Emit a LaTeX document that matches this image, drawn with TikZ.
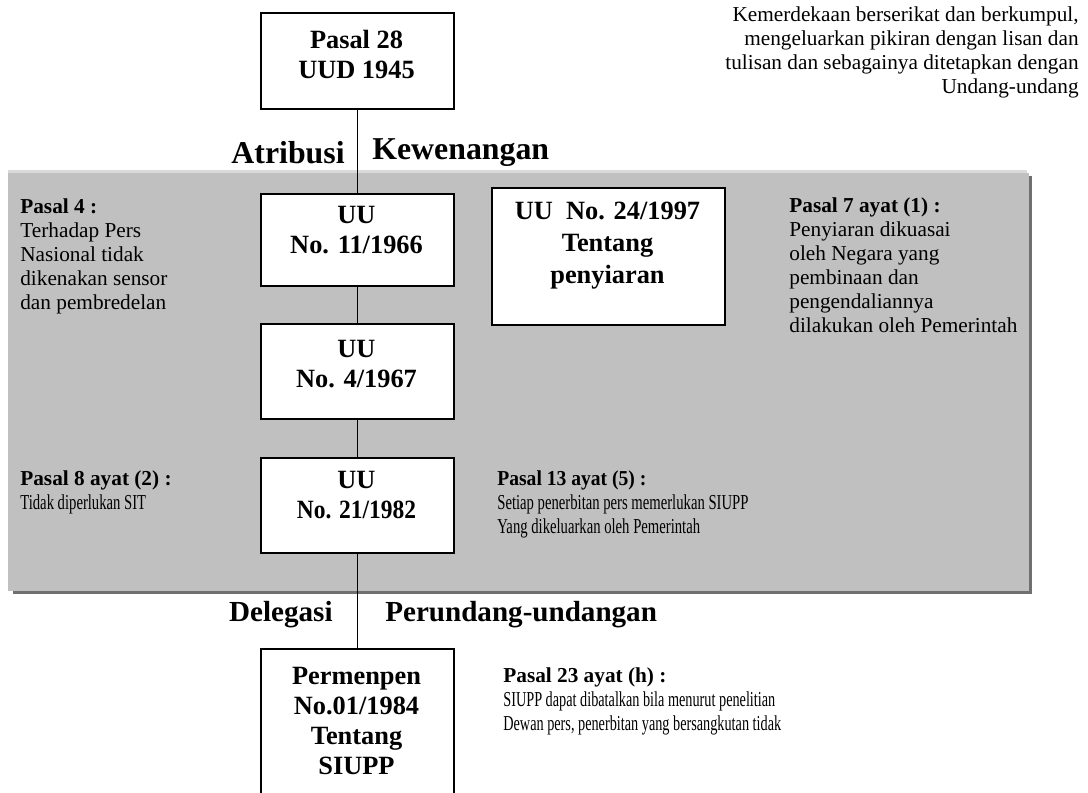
\documentclass[tikz,border=0pt]{standalone}
\usepackage{fontspec}
\setmainfont{Liberation Serif}
\usetikzlibrary{positioning}

\definecolor{panelgray}{HTML}{C0C0C0}
\definecolor{shadegray}{HTML}{707070}
\definecolor{edgegray}{HTML}{DADADA}

\newcommand{\boxfont}{\fontsize{14.5}{16.5}\selectfont\bfseries}
\newcommand{\notefont}{\fontsize{11.7}{13.2}\selectfont}
\newcommand{\linkfont}{\fontsize{17.5}{21}\selectfont\bfseries}
\newcommand{\lowlinkfont}{\fontsize{16}{19}\selectfont\bfseries}
\newcommand{\narrow}[2][0.69]{\scalebox{#1}[1]{#2}}

\tikzset{
  box/.style={draw, line width=0.9pt, fill=white, anchor=north west, inner sep=0pt,
    minimum width=106.15pt, minimum height=52.25pt},
  boxtext/.style={font=\boxfont, align=center, inner sep=0pt},
  note/.style={font=\notefont, align=left, anchor=north west, inner sep=0pt},
  linktext/.style={font=\linkfont, inner sep=0pt},
  link/.style={line width=0.7pt}
}

\begin{document}
\begin{tikzpicture}[x=0.55pt, y=-0.55pt]
			%%%%% START %%%%%
			\clip (0, 0) rectangle (1088, 792);
			
			% grey panel with shadow
			\fill[shadegray] (13, 176) rectangle (1032, 594);
			\fill[panelgray] (8, 173) rectangle (1029, 591);
			\fill[edgegray] (8, 170) rectangle (1027, 173);
			
			% boxes
			\node[box, minimum height=52.8pt] (pasal28) at (260, 12) {};
			\node[box, minimum height=50.6pt] (uu66) at (260, 193) {};
			\node[box] (uu67) at (260, 323) {};
			\node[box] (uu82) at (260, 457) {};
			\node[box, minimum width=128.15pt, minimum height=75.35pt] (uu97) at (491, 187) {};
			\node[box, minimum height=95pt] (perm84) at (260, 648) {};
			
			% connectors
			\draw[link] (pasal28.south) -- (uu66.north);
			\draw[link] (uu66.south) -- (uu67.north);
			\draw[link] (uu67.south) -- (uu82.north);
			\draw[link] (uu82.south) -- (perm84.north);
			
			% box texts
			\node[boxtext] (t28) at (356.5, 54) {Pasal 28\\UUD 1945};
			\node[boxtext] (t66) at (356.5, 230) {UU\\No. 11/1966};
			\node[boxtext] (t67) at (356.5, 364) {UU\\No. 4/1967};
			\node[boxtext] (t82) at (356.5, 495) {UU\\\narrow[0.89]{No. 21/1982}};
			\node[boxtext, font=\fontsize{14.5}{17.6}\selectfont\bfseries] (t97) at (607.5, 246) {UU~~No. 24/1997\\Tentang\\penyiaran};
			\node[boxtext] (t84) at (356.5, 721) {Permenpen\\No.01/1984\\Tentang\\SIUPP};
			
			% link labels
			\node[linktext, anchor=east] (atribusi) at (345, 153) {Atribusi};
			\node[linktext, anchor=west] (kewenangan) at (372, 153) {Kewenangan};
			\node[linktext, font=\lowlinkfont, anchor=east] (delegasi) at (333, 615) {Delegasi};
			\node[linktext, font=\lowlinkfont, anchor=west] (perundangan) at (385, 615) {Perundang-undangan};
			
			% notes
			\node[note, align=right, anchor=north east] (kemerdekaan) at (1079, 6)
			  {Kemerdekaan berserikat dan berkumpul,\\mengeluarkan pikiran dengan lisan dan\\tulisan dan sebagainya ditetapkan dengan\\Undang-undang};
			\node[note] (pasal4) at (20, 198)
			  {\textbf{Pasal 4 :}\\Terhadap Pers\\Nasional tidak\\dikenakan sensor\\dan pembredelan};
			\node[note] (pasal7) at (789, 197)
			  {\textbf{Pasal 7 ayat (1) :}\\Penyiaran dikuasai\\oleh Negara yang\\pembinaan dan\\pengendaliannya\\dilakukan oleh Pemerintah};
			\node[note] (pasal8) at (20, 470)
			  {\textbf{Pasal 8 ayat (2) :}\\\narrow{Tidak diperlukan SIT}};
			\node[note] (pasal13) at (497, 470)
			  {\narrow[0.92]{\textbf{Pasal 13 ayat (5) :}}\\\narrow{Setiap penerbitan pers memerlukan SIUPP}\\\narrow{Yang dikeluarkan oleh Pemerintah}};
			\node[note] (pasal23) at (503, 667)
			  {\textbf{Pasal 23 ayat (h) :}\\\narrow[0.67]{SIUPP dapat dibatalkan bila menurut penelitian}\\\narrow[0.67]{Dewan pers, penerbitan yang bersangkutan tidak}};
			
			%%%%% END %%%%%
\end{tikzpicture}
\end{document}
